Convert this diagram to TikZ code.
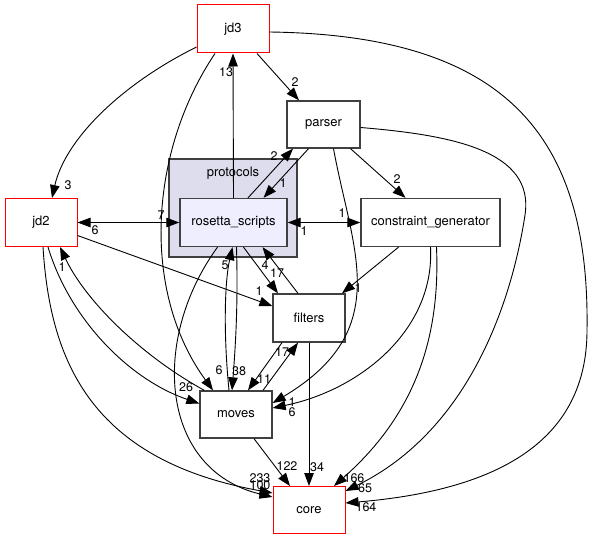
\documentclass[tikz,border=0pt]{standalone}
\usepackage{fontspec}
\setmainfont{TeX Gyre Heros}
\usetikzlibrary{arrows.meta,calc}
\definecolor{clusterfill}{HTML}{DDDDEE}
\definecolor{rsfill}{HTML}{EEEEFF}
\definecolor{boxgray}{HTML}{404040}
\begin{document}
\begin{tikzpicture}[x=1pt,y=-1pt,
  box/.style={draw=boxgray,line width=1.3pt,fill=white,rectangle,inner sep=0pt,minimum height=47pt,font=\fontsize{13}{15}\selectfont},
  redbox/.style={box,draw=red,line width=1pt},
  cluster/.style={draw=boxgray,line width=1.3pt,fill=clusterfill,rectangle,inner sep=0pt},
  edge/.style={draw=black,line width=0.9pt,-{Triangle[length=13pt,width=9.5pt]}},
  biedge/.style={draw=black,line width=0.9pt,{Triangle[length=13pt,width=9.5pt]}-{Triangle[length=13pt,width=9.5pt]}},
  lab/.style={inner sep=0pt,font=\fontsize{12.5}{13}\selectfont}]
\useasboundingbox (0,0) rectangle (593,540);
% cluster
\node[cluster,minimum width=128pt,minimum height=98pt] (protocols) at (233,208) {};
\node[lab,font=\fontsize{13}{15}\selectfont] (protocolslabel) at (233,173) {protocols};
% nodes
\node[redbox,minimum width=72pt,minimum height=48pt] (jd3) at (233,29) {jd3};
\node[box,minimum width=73pt] (parser) at (323.5,124.5) {parser};
\node[box,fill=rsfill,minimum width=107pt,minimum height=48pt] (rs) at (233.5,222.5) {rosetta\_scripts};
\node[box,minimum width=139pt,minimum height=48pt] (cg) at (430.5,222.5) {constraint\_generator};
\node[redbox,minimum width=72pt,minimum height=48pt] (jd2) at (41,222.5) {jd2};
\node[box,minimum width=72pt,minimum height=48pt] (filters) at (309,318) {filters};
\node[box,minimum width=72pt] (moves) at (236,414.5) {moves};
\node[redbox,minimum width=72pt] (core) at (309,510) {core};
% edges
\draw[edge] ($(jd3.west)+(0,18)$) .. controls (120,85) and (65,140) .. ($(jd2.north)+(11,0)$);
\draw[edge] ($(jd3.south)+(24,0)$) -- ($(parser.north)+(-24.5,0)$);
\draw[edge] ($(jd3.south)+(-18,0)$) .. controls (150,150) and (140,290) .. ($(moves.north)+(-23,0)$);
\draw[edge] ($(jd3.east)+(0,3)$) .. controls (500,35) and (590,130) .. (587,330) .. controls (587,440) and (500,490) .. ($(core.east)+(0,-7)$);
\draw[edge] (rs.north) -- (jd3.south);
\draw[edge] ($(rs.north)+(14.5,0)$) -- ($(parser.south)+(-30.5,0)$);
\draw[edge] ($(parser.south)+(-15,0)$) -- ($(rs.north)+(30,0)$);
\draw[biedge] (jd2.east) -- (rs.west);
\draw[biedge] (rs.east) -- (cg.west);
\draw[edge] ($(parser.south)+(27,0)$) -- ($(cg.north)+(-25,0)$);
\draw[edge] ($(parser.south)+(10,0)$) .. controls (352,250) and (395,330) .. ($(moves.east)+(0,-11.5)$);
\draw[edge] ($(parser.east)+(0,3)$) .. controls (450,135) and (535,150) .. (525,215) .. controls (512,300) and (470,430) .. ($(core.east)+(0,-19)$);
\draw[edge] ($(rs.south)+(-16,0)$) .. controls (150,340) and (160,470) .. ($(core.west)+(0,-13)$);
\draw[edge] ($(jd2.south)+(2,0)$) .. controls (50,360) and (90,460) .. ($(core.west)+(0,-17)$);
\draw[edge] ($(jd2.south)+(7,0)$) .. controls (70,320) and (130,380) .. ($(moves.west)+(0,-11)$);
\draw[edge] ($(moves.north west)+(5,0)$) .. controls (140,355) and (85,300) .. ($(jd2.south)+(19,0)$);
\draw[edge] ($(jd2.east)+(0,13)$) -- ($(filters.west)+(0,-12)$);
\draw[edge] ($(rs.south)+(10,0)$) -- ($(filters.north)+(-31,0)$);
\draw[edge] ($(filters.north)+(-11,0)$) -- ($(rs.south)+(29,0)$);
\draw[edge] ($(moves.north)+(-7,0)$) .. controls (223,330) and (225,280) .. ($(rs.south)+(-1,0)$);
\draw[edge] ($(rs.south)+(3,0)$) .. controls (238,300) and (236,340) .. ($(moves.north)+(-4,0)$);
\draw[edge] ($(filters.south)+(-27,0)$) -- ($(moves.north)+(12,0)$);
\draw[edge] ($(moves.north)+(27,0)$) -- ($(filters.south)+(-11,0)$);
\draw[edge] (filters.south) -- (core.north);
\draw[edge] ($(moves.south)+(18,0)$) -- ($(core.north)+(-19,0)$);
\draw[edge] ($(cg.south)+(-32,0)$) -- ($(filters.north)+(33,0)$);
\draw[edge] (cg.south) .. controls (435,330) and (360,390) .. ($(moves.east)+(0,-6.5)$);
\draw[edge] ($(cg.south)+(6,0)$) .. controls (440,330) and (420,410) .. ($(core.north)+(25,0)$);
% labels
\node[lab] (l1) at (68,185) {3};
\node[lab] (l2) at (295,82) {2};
\node[lab] (l3) at (226,72) {13};
\node[lab] (l4) at (219,370) {6};
\node[lab] (l5) at (366,507) {164};
\node[lab] (l6) at (274,156) {2};
\node[lab] (l7) at (283,183) {1};
\node[lab] (l8) at (95,230) {6};
\node[lab] (l9) at (161,215) {7};
\node[lab] (l10) at (342,213) {1};
\node[lab] (l11) at (304,231) {1};
\node[lab] (l12) at (397,179) {2};
\node[lab] (l13) at (358,288) {1};
\node[lab] (l14) at (292,402) {1};
\node[lab] (l15) at (292,412) {6};
\node[lab] (l16) at (354,478) {166};
\node[lab] (l17) at (365,488) {65};
\node[lab] (l18) at (317,467) {34};
\node[lab] (l19) at (287,466) {122};
\node[lab] (l20) at (260,478) {233};
\node[lab] (l21) at (260,485) {100};
\node[lab] (l22) at (186,387) {26};
\node[lab] (l23) at (239,371) {38};
\node[lab] (l24) at (264,379) {11};
\node[lab] (l25) at (282,352) {17};
\node[lab] (l26) at (277,273) {17};
\node[lab] (l27) at (265,265) {4};
\node[lab] (l28) at (225,265) {5};
\node[lab] (l29) at (259,291) {1};
\node[lab] (l30) at (62,267) {1};
\end{tikzpicture}
\end{document}
